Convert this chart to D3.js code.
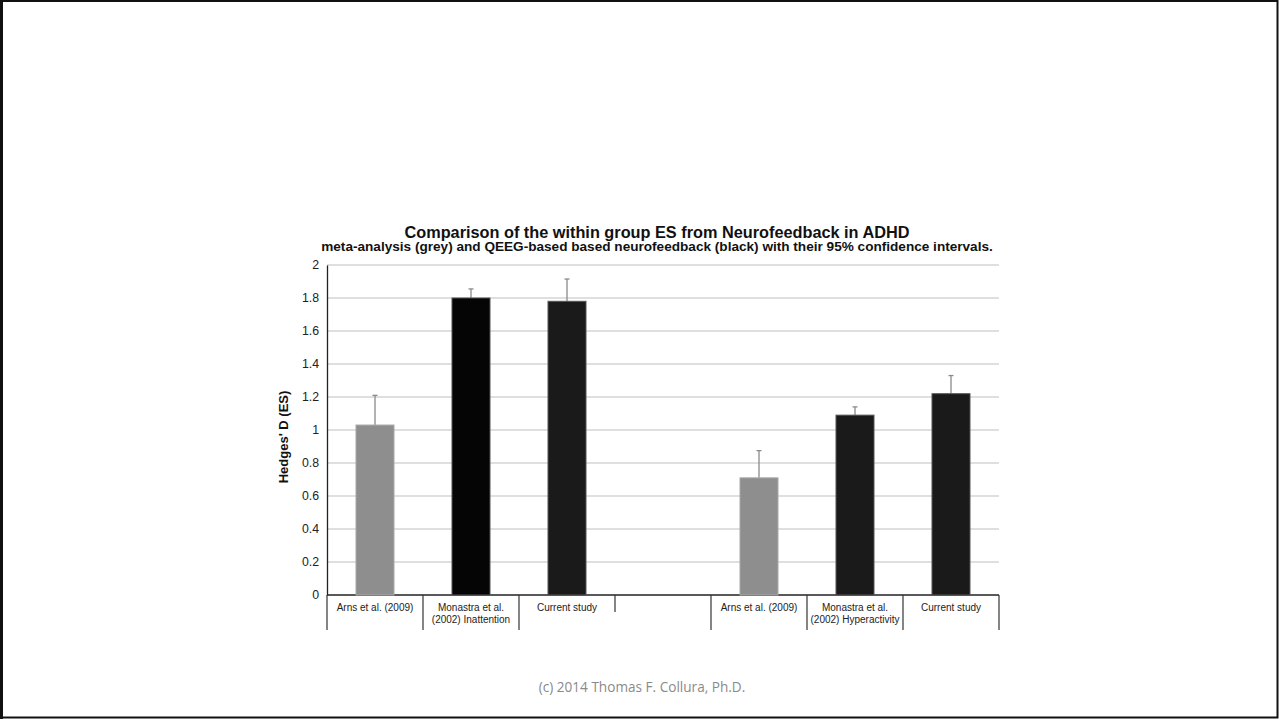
<!DOCTYPE html>
<html>
<head>
<meta charset="utf-8">
<script src="https://cdn.jsdelivr.net/npm/d3@7"></script>
<style>
  html, body { margin: 0; padding: 0; background: #fff; }
  svg { display: block; }
</style>
</head>
<body>
<svg id="chart" width="1279" height="719"></svg>
<script>
// Category slots along the x axis (the fourth slot is an empty spacer)
const categories = [
  ["Arns et al. (2009)"],
  ["Monastra et al.", "(2002) Inattention"],
  ["Current study"],
  [""],
  ["Arns et al. (2009)"],
  ["Monastra et al.", "(2002) Hyperactivity"],
  ["Current study"]
];
// Hedges' D effect sizes (null = no bar)
const esValues = [1.03, 1.80, 1.78, null, 0.71, 1.09, 1.22];
// Upper bound of 95% confidence interval
const ciUpper = [1.21, 1.855, 1.915, null, 0.875, 1.14, 1.33];
// Source: meta-analysis (grey) or QEEG-based neurofeedback (black)
const barGroup = ["meta", "qeeg", "qeeg", null, "meta", "qeeg", "qeeg"];
const yTicks = [0, 0.2, 0.4, 0.6, 0.8, 1, 1.2, 1.4, 1.6, 1.8, 2];

const svg = d3.select("#chart");
const W = 1279, H = 719;

// slide frame
svg.append("rect").attr("x", 1).attr("y", 1).attr("width", W - 2.5).attr("height", H - 2.5)
  .attr("fill", "#fff").attr("stroke", "#111").attr("stroke-width", 2);
svg.append("line").attr("x1", 1.5).attr("x2", 1.5).attr("y1", 0).attr("y2", H)
  .attr("stroke", "#111").attr("stroke-width", 3);

const plot = { left: 327, right: 999, top: 265, bottom: 595 };

const x = d3.scaleBand()
  .domain(d3.range(categories.length))
  .range([plot.left, plot.right])
  .paddingInner(0).paddingOuter(0);

const y = d3.scaleLinear().domain([0, 2]).range([plot.bottom, plot.top]);

const fontArial = "'Liberation Sans', Arial, Helvetica, sans-serif";

// gridlines
svg.append("g")
  .selectAll("line")
  .data(yTicks.filter(t => t > 0))
  .join("line")
  .attr("x1", plot.left).attr("x2", plot.right)
  .attr("y1", d => y(d)).attr("y2", d => y(d))
  .attr("stroke", "#d4d4d4").attr("stroke-width", 1.3);

// y axis
const yAxis = svg.append("g")
  .attr("transform", `translate(${plot.left},0)`)
  .call(d3.axisLeft(y).tickValues(yTicks).tickSize(0).tickPadding(8)
    .tickFormat(d => d3.format("~g")(d)));
yAxis.select(".domain").attr("stroke", "#222").attr("stroke-width", 1.3);
yAxis.selectAll("text")
  .attr("font-family", fontArial).attr("font-size", 12.3).attr("fill", "#222");

// y axis title
svg.append("text")
  .attr("transform", `translate(288,${(plot.top + plot.bottom) / 2 + 7}) rotate(-90)`)
  .attr("text-anchor", "middle")
  .attr("font-family", fontArial).attr("font-weight", "bold").attr("font-size", 13)
  .attr("fill", "#111")
  .text("Hedges' D (ES)");

// x axis baseline
svg.append("line")
  .attr("x1", plot.left).attr("x2", plot.right)
  .attr("y1", plot.bottom).attr("y2", plot.bottom)
  .attr("stroke", "#222").attr("stroke-width", 1.3);

// category dividers
const edges = d3.range(categories.length + 1).map(i =>
  i < categories.length ? x(i) : x(categories.length - 1) + x.bandwidth());
svg.append("g")
  .selectAll("line")
  .data(edges)
  .join("line")
  .attr("x1", d => d).attr("x2", d => d)
  .attr("y1", plot.bottom)
  .attr("y2", (d, i) => i === 3 ? plot.bottom + 17 : plot.bottom + 35)
  .attr("stroke", "#333").attr("stroke-width", 1.2);

// category labels
const catG = svg.append("g");
categories.forEach((lines, i) => {
  const t = catG.append("text")
    .attr("text-anchor", "middle")
    .attr("font-family", fontArial).attr("font-size", 10).attr("fill", "#222");
  lines.forEach((ln, j) => {
    t.append("tspan")
      .attr("x", x(i) + x.bandwidth() / 2)
      .attr("y", plot.bottom + 16 + j * 11.5)
      .text(ln);
  });
});

const barW = 38;
const idx = d3.range(categories.length).filter(i => esValues[i] !== null);

// error bars (upper half only)
const errG = svg.append("g");
idx.forEach(i => {
  const cx = x(i) + x.bandwidth() / 2;
  errG.append("line")
    .attr("x1", cx).attr("x2", cx)
    .attr("y1", y(esValues[i])).attr("y2", y(ciUpper[i]))
    .attr("stroke", "#8a8a8a").attr("stroke-width", 1.3);
  errG.append("line")
    .attr("x1", cx - 2.5).attr("x2", cx + 2.5)
    .attr("y1", y(ciUpper[i])).attr("y2", y(ciUpper[i]))
    .attr("stroke", "#8a8a8a").attr("stroke-width", 1.3);
});

// bars
const fillFor = (g, i) => g === "meta" ? "#8e8e8e" : (i === 1 ? "#050505" : "#1a1a1a");
svg.append("g")
  .selectAll("rect")
  .data(idx)
  .join("rect")
  .attr("x", i => x(i) + (x.bandwidth() - barW) / 2)
  .attr("y", i => y(esValues[i]))
  .attr("width", barW)
  .attr("height", i => y(0) - y(esValues[i]))
  .attr("fill", i => fillFor(barGroup[i], i))
  .attr("stroke", i => barGroup[i] === "meta" ? "#a8a8a8" : "#555")
  .attr("stroke-width", 1);

// titles
svg.append("text")
  .attr("x", 657).attr("y", 238)
  .attr("text-anchor", "middle")
  .attr("font-family", fontArial).attr("font-weight", "bold").attr("font-size", 16.3)
  .attr("fill", "#111")
  .text("Comparison of the within group ES from Neurofeedback in ADHD");
svg.append("text")
  .attr("x", 657).attr("y", 251)
  .attr("text-anchor", "middle")
  .attr("font-family", fontArial).attr("font-weight", "bold").attr("font-size", 13.6)
  .attr("fill", "#111")
  .text("meta-analysis (grey) and QEEG-based based neurofeedback (black) with their 95% confidence intervals.");

// footer credit
svg.append("text")
  .attr("x", 642).attr("y", 692)
  .attr("text-anchor", "middle")
  .attr("font-family", "'Open Sans', 'Noto Sans', sans-serif").attr("font-size", 13.6)
  .attr("fill", "#8a8a8a")
  .text("(c) 2014 Thomas F. Collura, Ph.D.");
</script>
</body>
</html>
